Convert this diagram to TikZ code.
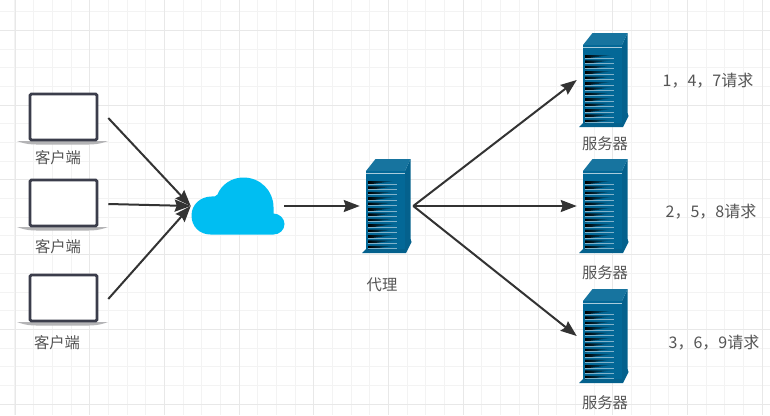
\documentclass[tikz,border=0pt]{standalone}
\usepackage{fontspec}
\setmainfont{Noto Sans CJK SC}
\usetikzlibrary{arrows.meta}
\definecolor{GridClr}{HTML}{F3F3F3}
\definecolor{MajorClr}{HTML}{E8E8E8}
\definecolor{LineClr}{HTML}{333333}
\definecolor{TextClr}{HTML}{555555}
\definecolor{CloudClr}{HTML}{00BEF2}
\definecolor{ServerClr}{HTML}{036897}
\definecolor{SideClr}{HTML}{04618D}
\definecolor{RidgeClr}{HTML}{A9CBDB}
\definecolor{ScreenClr}{HTML}{3B3D4B}
\definecolor{BaseClr}{HTML}{B4B4B6}

\tikzset{
  Arrow/.style={draw=LineClr,line width=1.5pt,-{Stealth[length=12pt,width=9pt,inset=1.5pt]}},
  Box/.style={inner sep=0pt,minimum width=53*.75pt,minimum height=94*.75pt},
  Device/.style={inner sep=0pt,minimum width=91*.75pt,minimum height=52*.75pt},
  Label/.style={text=TextClr,font=\fontsize{11.5}{13}\selectfont,inner sep=0pt},
  Request/.style={text=TextClr,font=\fontsize{12}{14}\selectfont,inner sep=0pt},
  server/.pic={
    \fill[SideClr] (18.5,-35)--(24,-47)--(24,34)--(18.5,45)--cycle;
    \fill[ServerClr!92!white] (-20.5,-35)--(-11,-47)--(24,-47)--(18.5,-35)--cycle;
    \fill[ServerClr] (-20.5,-35) rectangle (18.5,44);
    \fill[SideClr] (-24.5,47)--(-20.5,43)--(18.5,43)--(24,33)--(25,36)--(19.5,47)--cycle;
    \draw[RidgeClr,line width=.6pt] (-20.5,-33)--(18.5,-33);
    \foreach \i in {0,...,12}{
      \shade[left color=black,right color=ServerClr] (-18.5,-25+5.4*\i)--(9,-25+5.4*\i)--(-18.5,-21.5+5.4*\i)--cycle;
      \draw[RidgeClr!75!ServerClr,line width=.5pt] (-18.5,-22+5.4*\i)--(10.5,-22+5.4*\i);
    }
  },
  laptop/.pic={
    \fill[BaseClr] (-45.5,23)--(45.5,23) .. controls (36,26.5) and (30,26.5) .. (26,26.5)--(-26,26.5) .. controls (-30,26.5) and (-36,26.5) .. (-45.5,23)--cycle;
    \draw[ScreenClr,line width=2.1pt,fill=white,rounded corners=1pt] (-32.5,-24)--(34.5,-24)--(34.5,22)--(-32.5,22)--cycle;
  },
  cloud/.pic={
    \fill[CloudClr] (-27,28.5) .. controls (-38,28.5) and (-46,20.5) .. (-46,9.5)
      .. controls (-46,-1.5) and (-37,-9.5) .. (-26,-9.5) .. controls (-23.5,-9.5) and (-21.5,-9.2) .. (-20,-11.5)
      .. controls (-16,-21.5) and (-6,-28.5) .. (6,-28.5) .. controls (23,-28.5) and (36,-15) .. (36,1)
      .. controls (36,3) and (36,5) .. (36,7.5) .. controls (42,7.5) and (47,12.5) .. (47,18)
      .. controls (47,24) and (42,28.5) .. (36,28.5)--cycle;
  }
}

\begin{document}
\begin{tikzpicture}[x=.75pt,y=-.75pt]
\useasboundingbox (0,0) rectangle (770,415);
\fill[white] (0,0) rectangle (770,415);

\foreach \k in {0,...,41}{
  \draw[GridClr,line width=.75pt] (-3.7+18.68*\k,0)--(-3.7+18.68*\k,415);
}
\foreach \k in {0,...,22}{
  \draw[GridClr,line width=.75pt] (0,11.8+18.68*\k)--(770,11.8+18.68*\k);
}
\foreach \k in {0,...,10}{
  \draw[MajorClr,line width=.75pt] (15+74.72*\k,0)--(15+74.72*\k,415);
}
\foreach \k in {0,...,5}{
  \draw[MajorClr,line width=.75pt] (0,30.5+74.72*\k)--(770,30.5+74.72*\k);
}

\node[Device] (C1) at (62.5,118) {};
\node[Device] (C2) at (62.5,204) {};
\node[Device] (C3) at (62.5,299) {};
\node[inner sep=0pt,minimum width=93*.75pt,minimum height=57*.75pt] (G) at (237.5,206) {};
\node[Box] (P) at (386.5,206) {};
\node[Box] (S1) at (603.5,80) {};
\node[Box] (S2) at (603.5,206) {};
\node[Box] (S3) at (603.5,336) {};

\pic at (C1) {laptop};
\pic at (C2) {laptop};
\pic at (C3) {laptop};
\pic at (G) {cloud};
\pic at (P) {server};
\pic at (S1) {server};
\pic at (S2) {server};
\pic at (S3) {server};

\draw[Arrow] (C1.east)--(G.west);
\draw[Arrow] (C2.east)--(G.west);
\draw[Arrow] (C3.east)--(G.west);
\draw[Arrow] (G.east)--(P.west);
\draw[Arrow] (P.east)--(S1.west);
\draw[Arrow] (P.east)--(S2.west);
\draw[Arrow] (P.east)--(S3.west);

\node[Label] (LC1) at (58,158) {客户端};
\node[Label] (LC2) at (58,247) {客户端};
\node[Label] (LC3) at (57,343) {客户端};
\node[Label] (LP) at (382,285) {代理};
\node[Label] (LS1) at (605,144) {服务器};
\node[Label] (LS2) at (605,273) {服务器};
\node[Label] (LS3) at (605,403) {服务器};

\node[Request] (R1) at (708,81) {1，4，7请求};
\node[Request] (R2) at (711,212) {2，5，8请求};
\node[Request] (R3) at (714,343) {3，6，9请求};

\end{tikzpicture}
\end{document}
